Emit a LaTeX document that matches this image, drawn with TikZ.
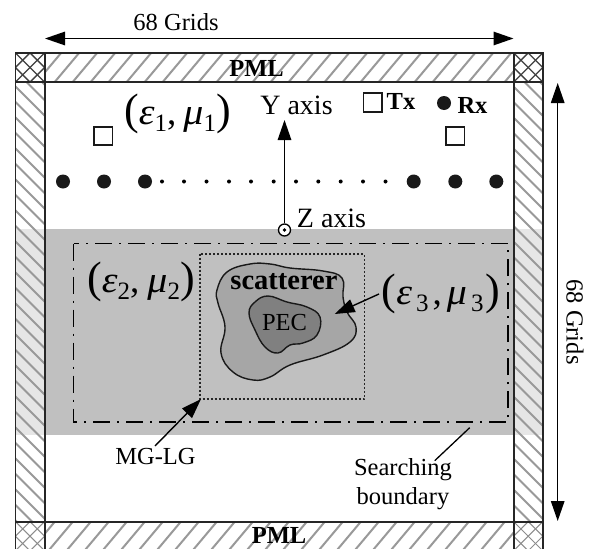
\documentclass[tikz,border=0pt]{standalone}
\usepackage{fontspec}
\usepackage{graphicx}
\setmainfont{Liberation Serif}
\usetikzlibrary{arrows.meta}
\definecolor{bandc}{HTML}{C0C0C0}
\definecolor{scatc}{HTML}{A6A6A6}
\definecolor{pecc}{HTML}{808080}
\definecolor{stripc}{HTML}{E6E6E6}
\newcommand{\fsz}[1]{\fontsize{#1}{#1}\selectfont}
% #1 subscript, #2 kern before first subscript, #3 kern before comma, #4 kern before mu, #5 kern before second subscript, #6 kern before closing paren
\newcommand{\emu}[6]{{\fsz{44}(}{\fsz{37}\itshape\scalebox{1.08}[1]{ε}}\kern#2{\fsz{25}\raisebox{-7pt}{#1}}\kern#3{\fsz{37},}\kern#4{\fsz{37}\itshape\scalebox{1.08}[1]{μ}}\kern#5{\fsz{25}\raisebox{-7pt}{#1}}\kern#6{\fsz{44})}}
\tikzset{
  x=1pt,y=-1pt,
  frameline/.style={line width=1.7pt,draw=black!85},
  hatchline/.style={line width=2pt,draw=black!40},
  crossline/.style={line width=1.3pt,draw=black!75},
  crosslight/.style={line width=1pt,draw=black!45},
  arr/.style={line width=1.4pt,-{Triangle[length=20pt,width=13.5pt]}},
  dimarr/.style={line width=1.4pt,{Triangle[length=20pt,width=13.5pt]}-{Triangle[length=20pt,width=13.5pt]}},
  leader/.style={line width=1.3pt},
  txt/.style={inner sep=0pt,font=\fsz{24.5}},
  boldtxt/.style={inner sep=0pt,font=\fsz{24.5}\bfseries},
  axistxt/.style={inner sep=0pt,font=\fsz{28}},
  bigdot/.style={circle,fill=black!90,minimum size=14pt,inner sep=0pt},
  smalldot/.style={circle,fill=black,minimum size=4pt,inner sep=0pt},
  sq/.style={draw=black!90,line width=1.8pt,fill=white,minimum size=18.5pt,inner sep=0pt},
  searchline/.style={line width=1.4pt,dash pattern=on 17pt off 7pt on 2pt off 7pt},
  gridline/.style={line width=1.6pt,dash pattern=on 2pt off 2pt,draw=black!85},
  blob/.style={line width=1.4pt,draw=black!90}
}
\begin{document}
\begin{tikzpicture}
\clip (0,0) rectangle (592,549);
\fill[white] (0,0) rectangle (592,549);
% band
\fill[bandc] (44.7,229) rectangle (513.7,434.7);
\fill[stripc] (15.5,229) rectangle (44.7,434.7);
\fill[stripc] (513.7,229) rectangle (543,434.7);
% horizontal strips hatch
\begin{scope}
  \clip (44.7,53) rectangle (513.7,82);
  \foreach \i in {0,...,28} \draw[hatchline] ({30+\i*18},90) -- ++(42,-50);
\end{scope}
\begin{scope}
  \clip (44.7,521.7) rectangle (513.7,549);
  \foreach \i in {0,...,28} \draw[hatchline] ({26+\i*18},556) -- ++(42,-50);
\end{scope}
% vertical strips hatch
\begin{scope}
  \clip (15.5,82) rectangle (44.7,521.7);
  \foreach \i in {0,...,31} \draw[hatchline] (10,{50+\i*15.5}) -- ++(40,40);
\end{scope}
\begin{scope}
  \clip (513.7,82) rectangle (543,521.7);
  \foreach \i in {0,...,31} \draw[hatchline] (508,{50+\i*15.5}) -- ++(40,40);
\end{scope}
% corners
\foreach \cx/\cy/\st in {15.5/53/crossline,513.7/53/crossline,15.5/521.7/crosslight,513.7/521.7/crosslight}{
  \begin{scope}
    \clip (\cx,\cy) rectangle ++(29.3,29);
    \foreach \i in {-3,...,5}{
      \draw[\st] ({\cx+\i*14.6},\cy) -- ++(29.3,29.3);
      \draw[\st] ({\cx+\i*14.6},{\cy+29}) -- ++(29.3,-29.3);
    }
  \end{scope}
}
% frame
\draw[frameline] (15.5,53) rectangle (543,560);
\draw[frameline] (44.7,53) -- (44.7,560);
\draw[frameline] (513.7,53) -- (513.7,560);
\draw[frameline] (15.5,82) -- (543,82);
\draw[frameline] (15.5,521.7) -- (543,521.7);
% boundaries
\draw[searchline] (73.5,243.5) rectangle (508,422);
\draw[gridline] (200,253.7) rectangle (364.3,399);
% scatterer
\draw[blob,fill=scatc] plot[smooth cycle,tension=0.7] coordinates {(217,290)(227,272)(250,264)(270,264)(290,268)(323,271)(342,278)(343,297)(347,312)(356,327)(350,342)(323,355)(290,365)(270,377)(253,380)(233,372)(221,353)(225,327)(218,303)};
\draw[blob,fill=pecc] plot[smooth cycle,tension=0.7] coordinates {(249,313)(255,302)(268,296)(287,302)(307,307)(320,317)(317,335)(303,343)(290,345)(278,353)(265,347)(255,330)};
% texts
\node[txt] (toplabel) at (176,22) {68 Grids};
\node[txt,rotate=-90] (rightlabel) at (575,322) {68 Grids};
\node[boldtxt] (pmltop) at (256.5,68) {PML};
\node[boldtxt] (pmlbot) at (279,535) {PML};
\node[axistxt] (yaxis) at (296.5,105) {Y axis};
\node[axistxt] (zaxis) at (331.5,218) {Z axis};
\node[boldtxt] (txlabel) at (401,101) {Tx};
\node[boldtxt] (rxlabel) at (472.5,105) {Rx};
\node[inner sep=0pt,font=\fsz{28.5}\bfseries] (scatlabel) at (284,282) {scatterer};
\node[txt] (peclabel) at (284.5,323) {PEC};
\node[txt] (mglabel) at (155.5,457) {MG-LG};
\node[txt,align=center,font=\fsz{24.5},text depth=0pt] (searchlabel) at (403,481.5) {Searching\\[5pt]boundary};
\node[inner sep=0pt] (eps1) at (177.5,114) {\emu{1}{0pt}{0pt}{7pt}{0pt}{0pt}};
\node[inner sep=0pt] (eps2) at (141,282) {\emu{2}{0pt}{0pt}{8pt}{0pt}{0pt}};
\node[inner sep=0pt] (eps3) at (441,294) {\emu{3}{4pt}{4pt}{5pt}{4pt}{2pt}};
% Tx Rx samples
\node[sq] (txa) at (372.7,102.5) {};
\node[sq] (txb) at (103.3,136) {};
\node[sq] (txc) at (455.3,136) {};
\node[bigdot] (rxkey) at (444,103) {};
\foreach \n/\x in {a/63,b/104,c/145,d/413.7,e/455.3,f/496.3}
  \node[bigdot] (rx\n) at (\x,181.5) {};
\foreach \n/\x in {1/162,2/184,3/206.5,4/229,5/251,6/273.7,7/296,8/318.3,9/340.7,10/363,11/385.5}
  \node[smalldot] (dot\n) at (\x,181.5) {};
% axes
\node[circle,draw=black,line width=1.3pt,fill=white,minimum size=12pt,inner sep=0pt] (zc) at (284.5,230) {};
\node[circle,fill=black,minimum size=3.6pt,inner sep=0pt] (zd) at (284.5,230) {};
\coordinate (ytip) at (284.5,120);
\draw[arr] (zc) -- (ytip);
% dimension arrows
\coordinate (tl) at (45,38.5);
\coordinate (tr) at (513.5,38.5);
\draw[dimarr] (tl) -- (tr);
\coordinate (rt) at (557.7,83);
\coordinate (rb) at (557.7,521);
\draw[dimarr] (rt) -- (rb);
% leaders
\coordinate (mgtip) at (201,399);
\coordinate (mgfoot) at (155,446);
\draw[arr] (mgfoot) -- (mgtip);
\coordinate (e3foot) at (379,294);
\coordinate (e3tip) at (334.7,314);
\draw[arr] (e3foot) -- (e3tip);
\coordinate (sfoot) at (434.7,460.7);
\coordinate (stip) at (469.7,427.7);
\draw[leader] (sfoot) -- (stip);
\end{tikzpicture}
\end{document}
